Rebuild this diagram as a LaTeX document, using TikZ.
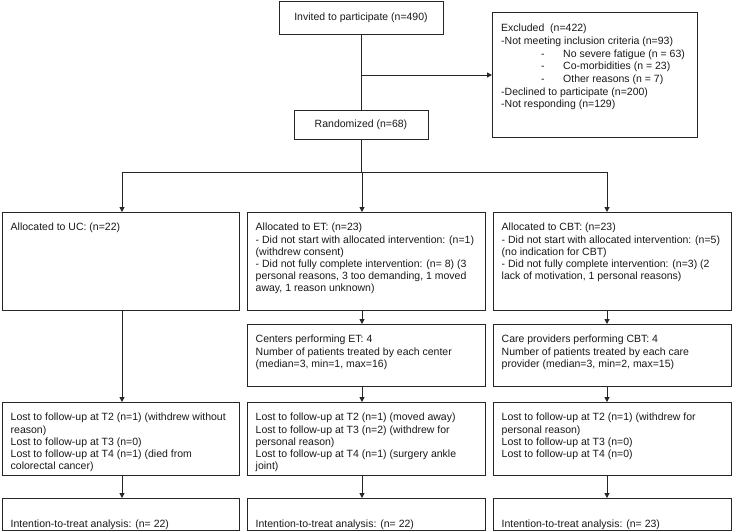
\documentclass[tikz,border=0pt]{standalone}
\usepackage{fontspec}
\setmainfont{Liberation Sans}
\usetikzlibrary{arrows.meta}
\begin{document}
\begin{tikzpicture}[x=1pt,y=-1pt,
  every node/.style={font=\fontsize{10.5}{12.1}\selectfont, text=black!90},
  box/.style={draw=black!85, line width=1pt, inner sep=0pt, anchor=north west},
  txt/.style={inner sep=0pt, anchor=north west, align=left, xshift=8.5pt, yshift=-10.3pt},
  conn/.style={draw=black!85, line width=1pt},
  arr/.style={conn, -{Triangle[length=5pt,width=5pt]}}]
\useasboundingbox (0,0) rectangle (733,531);
\fill[white] (0,0) rectangle (733,531);

% top
\node[box, anchor=center, minimum width=164pt, minimum height=33pt] (invited) at (361,17.5) {Invited to participate (n=490)};
\node[box, anchor=center, minimum width=134pt, minimum height=29pt] (random) at (361,124.5) {Randomized (n=68)};
\node[box, minimum width=205pt, minimum height=125pt] (excl) at (492,12) {};
\node[txt, xshift=0.5pt, yshift=-0.3pt, font=\fontsize{10.5}{12.7}\selectfont] (excltxt) at (excl.north west) {\strut Excluded\ \ (n=422)\\
-Not meeting inclusion criteria (n=93)\\
\hspace*{40pt}\makebox[22pt][l]{-}No severe fatigue (n = 63)\\
\hspace*{40pt}\makebox[22pt][l]{-}Co-morbidities (n = 23)\\
\hspace*{40pt}\makebox[22pt][l]{-}Other reasons (n = 7)\\
-Declined to participate (n=200)\\
-Not responding (n=129)};

\draw[conn] (invited) -- (random);
\coordinate (branch) at (invited.south |- excl.west);
\draw[arr] (branch) -- (excl.west);

% allocation
\coordinate (split) at (361,172);
\coordinate (xuc) at (122,0);
\coordinate (xet) at (362,0);
\coordinate (xcbt) at (607,0);
\draw[conn] (random) -- (split);
\draw[conn] (split -| xuc) -- (split -| xcbt);

\node[box, minimum width=237pt, minimum height=98pt] (uc) at (2,212) {};
\node[box, minimum width=238pt, minimum height=98pt] (et) at (247,212) {};
\node[box, minimum width=238pt, minimum height=98pt] (cbt) at (493,212) {};
\node[txt] (uctxt) at (uc.north west) {\strut Allocated to UC: (n=22)};
\node[txt] (ettxt) at (et.north west) {\strut Allocated to ET: (n=23)\\
- Did not start with allocated intervention: (n=1)\\
(withdrew consent)\\
- Did not fully complete intervention: (n= 8) (3\\
personal reasons, 3 too demanding, 1 moved\\
away, 1 reason unknown)};
\node[txt] (cbttxt) at (cbt.north west) {\strut Allocated to CBT: (n=23)\\
- Did not start with allocated intervention: (n=5)\\
(no indication for CBT)\\
- Did not fully complete intervention: (n=3) (2\\
lack of motivation, 1 personal reasons)};

\draw[arr] (split -| xuc) -- (uc.north -| xuc);
\draw[arr] (split -| xet) -- (et.north -| xet);
\draw[arr] (split -| xcbt) -- (cbt.north -| xcbt);

% providers
\node[box, minimum width=238pt, minimum height=62pt] (cen) at (247,324) {};
\node[box, minimum width=238pt, minimum height=62pt] (care) at (493,324) {};
\node[txt] (centxt) at (cen.north west) {\strut Centers performing ET: 4\\
Number of patients treated by each center\\
(median=3, min=1, max=16)};
\node[txt] (caretxt) at (care.north west) {\strut Care providers performing CBT: 4\\
Number of patients treated by each care\\
provider (median=3, min=2, max=15)};
\draw[arr] (et.south -| xet) -- (cen.north -| xet);
\draw[arr] (cbt.south -| xcbt) -- (care.north -| xcbt);

% lost to follow-up
\node[box, minimum width=237pt, minimum height=73pt] (lostuc) at (2,402) {};
\node[box, minimum width=238pt, minimum height=73pt] (lostet) at (247,402) {};
\node[box, minimum width=238pt, minimum height=73pt] (lostcbt) at (493,402) {};
\node[txt] (lostuctxt) at (lostuc.north west) {\strut Lost to follow-up at T2 (n=1) (withdrew without\\
reason)\\
Lost to follow-up at T3 (n=0)\\
Lost to follow-up at T4 (n=1) (died from\\
colorectal cancer)};
\node[txt] (lostettxt) at (lostet.north west) {\strut Lost to follow-up at T2 (n=1) (moved away)\\
Lost to follow-up at T3 (n=2) (withdrew for\\
personal reason)\\
Lost to follow-up at T4 (n=1) (surgery ankle\\
joint)};
\node[txt] (lostcbttxt) at (lostcbt.north west) {\strut Lost to follow-up at T2 (n=1) (withdrew for\\
personal reason)\\
Lost to follow-up at T3 (n=0)\\
Lost to follow-up at T4 (n=0)};
\draw[arr] (uc.south -| xuc) -- (lostuc.north -| xuc);
\draw[arr] (cen.south -| xet) -- (lostet.north -| xet);
\draw[arr] (care.south -| xcbt) -- (lostcbt.north -| xcbt);

% ITT
\node[box, minimum width=237pt, minimum height=32pt] (ittuc) at (2,498) {};
\node[box, minimum width=238pt, minimum height=32pt] (ittet) at (247,498) {};
\node[box, minimum width=238pt, minimum height=32pt] (ittcbt) at (493,498) {};
\node[txt, anchor=west, yshift=0pt] (ittuctxt) at (ittuc.west) {Intention-to-treat analysis: (n= 22)};
\node[txt, anchor=west, yshift=0pt] (ittettxt) at (ittet.west) {Intention-to-treat analysis: (n= 22)};
\node[txt, anchor=west, yshift=0pt] (ittcbttxt) at (ittcbt.west) {Intention-to-treat analysis: (n= 23)};
\draw[arr] (lostuc.south -| xuc) -- (ittuc.north -| xuc);
\draw[arr] (lostet.south -| xet) -- (ittet.north -| xet);
\draw[arr] (lostcbt.south -| xcbt) -- (ittcbt.north -| xcbt);
\end{tikzpicture}
\end{document}
